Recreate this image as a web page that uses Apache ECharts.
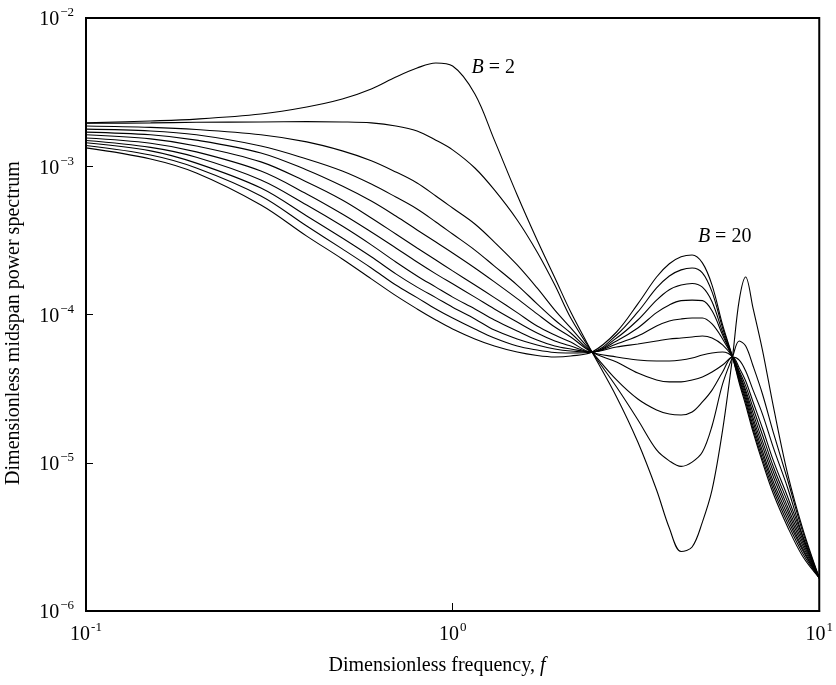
<!DOCTYPE html>
<html>
<head>
<meta charset="utf-8">
<script src="https://cdn.jsdelivr.net/npm/echarts@6/dist/echarts.min.js"></script>
<style>
html, body { margin: 0; padding: 0; background: #fff; }
#chart { width: 836px; height: 685px; }
</style>
</head>
<body>
<div id="chart"></div>
<script>
// Dimensionless frequency f at which every curve is sampled
const freq = [0.1, 0.15, 0.2, 0.3, 0.4, 0.5, 0.6, 0.7, 0.8, 0.9, 1.0, 1.15, 1.3, 1.5, 1.7, 1.9, 2.1, 2.4,
  2.8, 3.2, 3.6, 3.9, 4.2, 4.5, 4.8, 5.1, 5.45, 5.8, 6.05, 6.3, 6.6, 7.0, 7.5, 8.2, 9.0, 10];

// Dimensionless midspan power spectrum, one curve per damping parameter (B = 2 first, B = 20 last)
const specB2 = [1.96e-3, 2.02e-3, 2.08e-3, 2.25e-3, 2.51e-3, 2.84e-3, 3.32e-3, 4.00e-3, 4.60e-3, 4.97e-3, 4.74e-3, 3.07e-3,
  1.50e-3, 6.40e-4, 3.18e-4, 1.77e-4, 1.04e-4, 5.58e-5, 2.78e-5, 1.38e-5, 6.55e-6, 3.63e-6, 2.52e-6, 2.70e-6,
  3.98e-6, 6.55e-6, 1.66e-5, 5.17e-5, 1.25e-4, 1.79e-4, 1.10e-4, 5.76e-5, 2.38e-5, 8.40e-6, 3.63e-6, 1.67e-6];
const specC2 = [1.95e-3, 1.96e-3, 1.98e-3, 1.99e-3, 2.00e-3, 1.99e-3, 1.96e-3, 1.87e-3, 1.73e-3, 1.50e-3, 1.29e-3, 9.73e-4,
  6.92e-4, 4.34e-4, 2.64e-4, 1.58e-4, 9.47e-5, 5.58e-5, 3.24e-5, 1.95e-5, 1.22e-5, 1.03e-5, 9.45e-6, 1.01e-5,
  1.18e-5, 1.77e-5, 3.40e-5, 5.17e-5, 6.63e-5, 6.13e-5, 4.49e-5, 2.91e-5, 1.59e-5, 7.65e-6, 3.46e-6, 1.67e-6];
const specC3 = [1.87e-3, 1.83e-3, 1.77e-3, 1.63e-3, 1.46e-3, 1.27e-3, 1.09e-3, 9.15e-4, 7.71e-4, 6.30e-4, 5.23e-4, 4.08e-4,
  3.08e-4, 2.16e-4, 1.51e-4, 1.07e-4, 8.11e-5, 5.58e-5, 3.62e-5, 2.69e-5, 2.27e-5, 2.13e-5, 2.10e-5, 2.20e-5,
  2.57e-5, 3.09e-5, 4.09e-5, 5.17e-5, 4.93e-5, 4.16e-5, 3.09e-5, 2.13e-5, 1.26e-5, 6.76e-6, 3.25e-6, 1.67e-6];
const specC4 = [1.78e-3, 1.73e-3, 1.63e-3, 1.37e-3, 1.12e-3, 9.29e-4, 7.59e-4, 6.20e-4, 5.15e-4, 4.21e-4, 3.49e-4, 2.72e-4,
  2.12e-4, 1.58e-4, 1.18e-4, 9.18e-5, 7.50e-5, 5.58e-5, 4.78e-5, 4.03e-5, 3.62e-5, 3.51e-5, 3.51e-5, 3.62e-5,
  3.79e-5, 4.09e-5, 4.56e-5, 5.17e-5, 4.36e-5, 3.56e-5, 2.57e-5, 1.71e-5, 1.03e-5, 5.88e-6, 3.20e-6, 1.67e-6];
const specC5 = [1.70e-3, 1.63e-3, 1.50e-3, 1.23e-3, 9.44e-4, 7.36e-4, 5.83e-4, 4.62e-4, 3.72e-4, 3.08e-4, 2.60e-4, 2.06e-4,
  1.66e-4, 1.28e-4, 1.01e-4, 8.23e-5, 7.05e-5, 5.58e-5, 5.17e-5, 4.93e-5, 4.86e-5, 4.86e-5, 4.93e-5, 5.09e-5,
  5.33e-5, 5.50e-5, 5.58e-5, 5.17e-5, 4.16e-5, 3.30e-5, 2.34e-5, 1.54e-5, 9.36e-6, 5.43e-6, 3.06e-6, 1.67e-6];
const specC6 = [1.63e-3, 1.53e-3, 1.37e-3, 1.07e-3, 7.83e-4, 5.92e-4, 4.48e-4, 3.49e-4, 2.81e-4, 2.33e-4, 1.97e-4, 1.58e-4,
  1.30e-4, 1.03e-4, 8.36e-5, 7.27e-5, 6.52e-5, 5.58e-5, 6.03e-5, 6.33e-5, 6.63e-5, 6.84e-5, 6.94e-5, 7.05e-5,
  7.16e-5, 6.94e-5, 6.23e-5, 5.17e-5, 4.03e-5, 3.09e-5, 2.16e-5, 1.40e-5, 8.66e-6, 5.03e-6, 2.92e-6, 1.67e-6];
const specC7 = [1.55e-3, 1.43e-3, 1.25e-3, 9.29e-4, 6.50e-4, 4.76e-4, 3.60e-4, 2.81e-4, 2.26e-4, 1.88e-4, 1.61e-4, 1.31e-4,
  1.09e-4, 8.90e-5, 7.50e-5, 6.63e-5, 6.13e-5, 5.58e-5, 6.33e-5, 7.16e-5, 8.36e-5, 9.04e-5, 9.33e-5, 9.47e-5,
  9.47e-5, 8.63e-5, 6.84e-5, 5.17e-5, 3.91e-5, 2.96e-5, 2.01e-5, 1.30e-5, 8.01e-6, 4.73e-6, 2.79e-6, 1.67e-6];
const specC8 = [1.49e-3, 1.34e-3, 1.15e-3, 8.08e-4, 5.48e-4, 3.95e-4, 2.95e-4, 2.26e-4, 1.82e-4, 1.53e-4, 1.31e-4, 1.09e-4,
  9.18e-5, 7.74e-5, 6.73e-5, 6.13e-5, 5.85e-5, 5.58e-5, 6.63e-5, 8.11e-5, 1.03e-4, 1.16e-4, 1.24e-4, 1.25e-4,
  1.24e-4, 1.06e-4, 7.27e-5, 5.17e-5, 3.79e-5, 2.82e-5, 1.89e-5, 1.20e-5, 7.42e-6, 4.44e-6, 2.66e-6, 1.67e-6];
const specC9 = [1.44e-3, 1.27e-3, 1.05e-3, 7.13e-4, 4.62e-4, 3.28e-4, 2.45e-4, 1.88e-4, 1.53e-4, 1.30e-4, 1.12e-4, 9.33e-5,
  7.85e-5, 6.84e-5, 6.23e-5, 5.85e-5, 5.67e-5, 5.58e-5, 6.94e-5, 9.18e-5, 1.25e-4, 1.47e-4, 1.58e-4, 1.62e-4,
  1.53e-4, 1.22e-4, 7.62e-5, 5.17e-5, 3.67e-5, 2.69e-5, 1.77e-5, 1.13e-5, 6.97e-6, 4.17e-6, 2.58e-6, 1.67e-6];
const specC10 = [1.38e-3, 1.19e-3, 9.73e-4, 6.30e-4, 3.95e-4, 2.77e-4, 2.06e-4, 1.58e-4, 1.30e-4, 1.09e-4, 9.47e-5, 7.98e-5,
  6.94e-5, 6.13e-5, 5.76e-5, 5.54e-5, 5.50e-5, 5.58e-5, 7.27e-5, 1.04e-4, 1.51e-4, 1.82e-4, 2.00e-4, 2.06e-4,
  1.91e-4, 1.42e-4, 8.11e-5, 5.17e-5, 3.56e-5, 2.57e-5, 1.68e-5, 1.06e-5, 6.55e-6, 3.92e-6, 2.46e-6, 1.67e-6];
const specB20 = [1.33e-3, 1.12e-3, 9.01e-4, 5.48e-4, 3.38e-4, 2.37e-4, 1.74e-4, 1.34e-4, 1.09e-4, 9.18e-5, 7.98e-5, 6.84e-5,
  6.13e-5, 5.58e-5, 5.29e-5, 5.17e-5, 5.25e-5, 5.58e-5, 7.62e-5, 1.18e-4, 1.79e-4, 2.20e-4, 2.45e-4, 2.52e-4,
  2.23e-4, 1.58e-4, 8.50e-5, 5.17e-5, 3.45e-5, 2.45e-5, 1.61e-5, 1.01e-5, 6.15e-6, 3.69e-6, 2.35e-6, 1.67e-6];

const curves = [specB2, specC2, specC3, specC4, specC5, specC6, specC7, specC8, specC9, specC10, specB20];

// Decade tick labels: base 10 with superscript exponent
const xTickValues = [0.1, 1, 10];
const xTickExponents = ['-1', '0', '1'];
const yTickValues = [1e-6, 1e-5, 1e-4, 1e-3, 1e-2];
const yTickExponents = ['\u22126', '\u22125', '\u22124', '\u22123', '\u22122'];

// Curve annotations, anchored in data space
const annotations = [
  { f: 1.29, v: 4.6e-3, b: '2' },
  { f: 5.52, v: 3.33e-4, b: '20' }
];

const FONT = '"Liberation Serif", "DejaVu Serif", serif';

function decadeLabel(values, exps) {
  return function (val) {
    const k = Math.round(Math.log10(val));
    for (let i = 0; i < values.length; i++) {
      if (Math.round(Math.log10(values[i])) === k) {
        return '{n|10}{e|' + exps[i] + '}';
      }
    }
    return '';
  };
}

// The exponent token carries extra bottom padding so it sits raised beside the base
const tickRich = {
  n: { fontFamily: FONT, fontSize: 20, color: '#000', lineHeight: 20, padding: [4, 0, 0, 0] },
  e: { fontFamily: FONT, fontSize: 13, color: '#000', lineHeight: 14, padding: [0, 0, 10, 1] }
};

const chart = echarts.init(document.getElementById('chart'), null, { renderer: 'canvas' });

const series = curves.map(function (vals, i) {
  return {
    type: 'line',
    name: 'curve' + (i + 1),
    data: freq.map(function (f, j) { return [f, vals[j]]; }),
    showSymbol: false,
    symbol: 'none',
    smooth: 0.35,
    lineStyle: { color: '#000', width: 1.1 },
    silent: true,
    z: 3
  };
});

chart.setOption({
  animation: false,
  backgroundColor: '#fff',
  grid: {
    left: 86, right: 14, top: 18, bottom: 74,
    show: true, borderColor: '#000', borderWidth: 2, backgroundColor: 'transparent'
  },
  xAxis: {
    type: 'log', logBase: 10, min: 0.1, max: 10,
    axisLine: { show: true, lineStyle: { color: '#000', width: 2 } },
    axisTick: { show: true, inside: true, length: 8, lineStyle: { color: '#000', width: 1 } },
    minorTick: { show: false },
    splitLine: { show: false },
    axisLabel: {
      margin: 12,
      formatter: decadeLabel(xTickValues, xTickExponents),
      rich: tickRich
    }
  },
  yAxis: {
    type: 'log', logBase: 10, min: 1e-6, max: 1e-2,
    axisLine: { show: true, lineStyle: { color: '#000', width: 2 } },
    axisTick: { show: true, inside: true, length: 7, lineStyle: { color: '#000', width: 1 } },
    minorTick: { show: false },
    splitLine: { show: false },
    axisLabel: {
      margin: 12,
      formatter: decadeLabel(yTickValues, yTickExponents),
      rich: tickRich
    }
  },
  series: series
});

// Axis titles and the B annotations
const graphics = [
  {
    type: 'text', x: 437, y: 666,
    style: {
      text: '{t|Dimensionless frequency, }{i|f}',
      align: 'center', verticalAlign: 'middle',
      rich: {
        t: { fontFamily: FONT, fontSize: 20, fill: '#000' },
        i: { fontFamily: FONT, fontSize: 20, fontStyle: 'italic', fill: '#000' }
      }
    }
  },
  {
    type: 'text', x: 14, y: 323, rotation: Math.PI / 2,
    style: {
      text: 'Dimensionless midspan power spectrum',
      fontFamily: FONT, fontSize: 20, fill: '#000',
      align: 'center', verticalAlign: 'middle'
    }
  }
];
annotations.forEach(function (a) {
  const p = chart.convertToPixel({ gridIndex: 0 }, [a.f, a.v]);
  graphics.push({
    type: 'text', x: p[0], y: p[1],
    style: {
      text: '{i|B}{t| = ' + a.b + '}',
      align: 'center', verticalAlign: 'middle',
      rich: {
        i: { fontFamily: FONT, fontSize: 20, fontStyle: 'italic', fill: '#000' },
        t: { fontFamily: FONT, fontSize: 20, fill: '#000' }
      }
    }
  });
});
chart.setOption({ graphic: graphics });
</script>
</body>
</html>
